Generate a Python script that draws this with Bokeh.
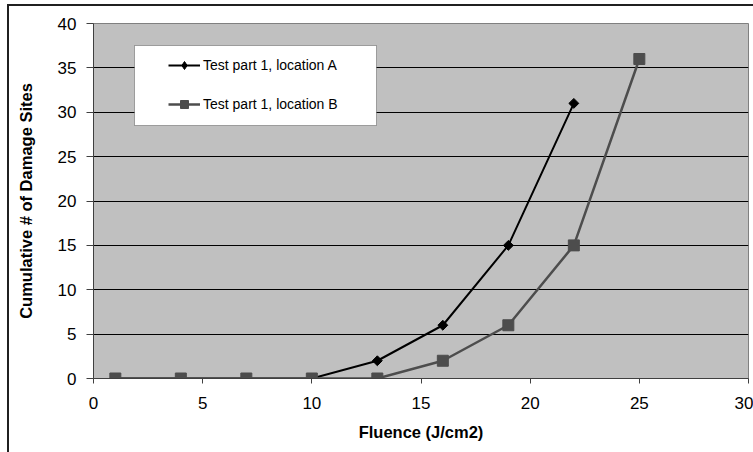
import math
from bokeh.plotting import figure
from bokeh.models import Range1d, FixedTicker, BoxAnnotation, Legend, LegendItem, InlineStyleSheet
from bokeh.embed import file_html
from bokeh.resources import INLINE

# ---- data ----
series_names = ["Test part 1, location A", "Test part 1, location B"]
x_a = [1, 4, 7, 10, 13, 16, 19, 22]
y_a = [0, 0, 0, 0, 2, 6, 15, 31]
x_b = [1, 4, 7, 10, 13, 16, 19, 22, 25]
y_b = [0, 0, 0, 0, 0, 2, 6, 15, 36]
x_ticks = [0, 5, 10, 15, 20, 25, 30]
y_ticks = [0, 5, 10, 15, 20, 25, 30, 35, 40]
x_title = "Fluence (J/cm2)"
y_title = "Cumulative # of Damage Sites"

FONT = "Liberation Sans"
COL_A = "#000000"
COL_B = "#4d4d4d"

border_css = InlineStyleSheet(css="""
:host::after {
  content: "";
  position: absolute;
  left: 7px; top: 4px; right: -20px; bottom: -20px;
  border: 2px solid #202020;
  pointer-events: none;
}
""")

p = figure(width=753, height=452, output_backend="svg", toolbar_location=None,
           x_range=Range1d(0, 30), y_range=Range1d(0, 40),
           min_border_left=93, min_border_right=5, min_border_top=23, min_border_bottom=74,
           stylesheets=[border_css])
p.background_fill_color = "#c0c0c0"
p.border_fill_color = "white"
p.outline_line_color = "#808080"
p.outline_line_width = 1

p.xgrid.visible = False
p.ygrid.ticker = FixedTicker(ticks=y_ticks)
p.ygrid.grid_line_color = "#000000"
p.ygrid.grid_line_width = 1

p.xaxis.ticker = FixedTicker(ticks=x_ticks)
p.yaxis.ticker = FixedTicker(ticks=y_ticks)
for ax in (p.xaxis, p.yaxis):
    ax.axis_line_color = "#404040"
    ax.major_tick_line_color = "#404040"
    ax.minor_tick_line_color = None
    ax.major_tick_in = 0
    ax.major_label_text_font = FONT
    ax.major_label_text_font_size = "17px"
    ax.major_label_text_color = "black"
    ax.axis_label_text_font = FONT
    ax.axis_label_text_font_style = "bold"
    ax.axis_label_text_font_size = "16.5px"
    ax.axis_label_text_color = "black"
p.xaxis.major_tick_out = 5
p.yaxis.major_tick_out = 7
p.xaxis.major_label_standoff = 13
p.yaxis.major_label_standoff = 10
p.xaxis.axis_label = x_title
p.yaxis.axis_label = y_title
p.xaxis.axis_label_standoff = 11
p.yaxis.axis_label_standoff = 20

# lines and markers (series B drawn on top, as in the original)
la = p.line(x_a, y_a, line_color=COL_A, line_width=2)
ma = p.scatter(x_a, y_a, marker="square", angle=math.pi / 4, size=7,
               fill_color=COL_A, line_color=COL_A, line_width=1)
lb = p.line(x_b, y_b, line_color=COL_B, line_width=2.5)
mb = p.scatter(x_b, y_b, marker="square", size=11, fill_color=COL_B, line_color=COL_B)
# legend-only marker for series A (the legend does not rotate markers)
ma_leg = p.scatter(x_a, y_a, marker="diamond", size=10,
                   fill_color=COL_A, line_color=COL_A, line_width=1)
ma_leg.visible = False

# legend box (screen units relative to plot frame, y from frame bottom)
p.add_layout(BoxAnnotation(left=41, right=283, top=333, bottom=253,
                           left_units="screen", right_units="screen",
                           top_units="screen", bottom_units="screen",
                           fill_color="white", fill_alpha=1, line_color="black", line_width=1))

legend = Legend(items=[LegendItem(label=series_names[0], renderers=[la, ma_leg]),
                       LegendItem(label=series_names[1], renderers=[lb, mb])],
                location=(75, 264), padding=0, margin=0, spacing=19,
                glyph_width=32, glyph_height=20, label_height=20, label_standoff=3,
                label_text_font=FONT, label_text_font_size="14px", label_text_color="black",
                background_fill_alpha=0, border_line_color=None)
p.add_layout(legend)

open("out.html", "w").write(file_html(p, INLINE))
